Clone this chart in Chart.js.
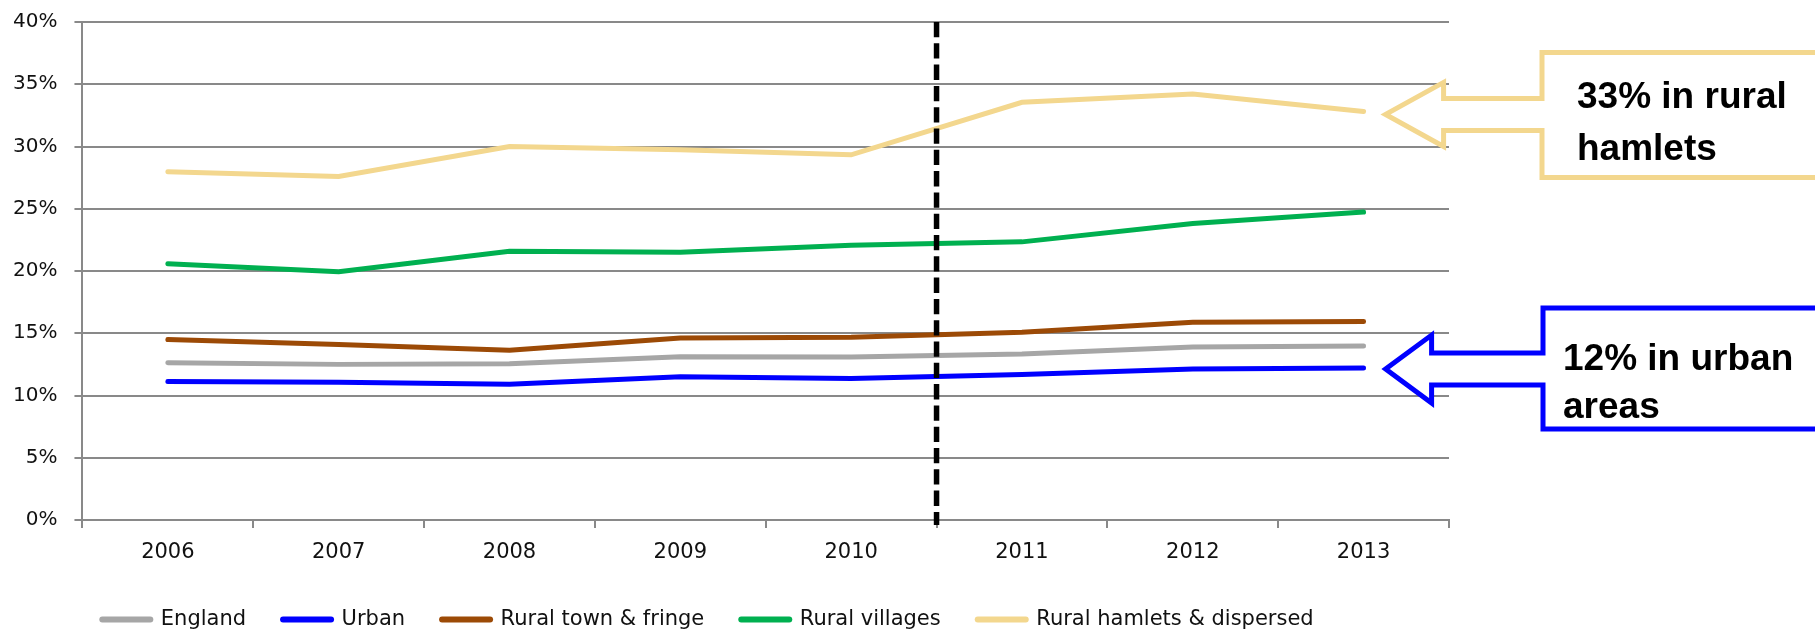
<!DOCTYPE html>
<html>
<head>
<meta charset="utf-8">
<script src="https://cdn.jsdelivr.net/npm/chart.js@4.4.0/dist/chart.umd.min.js"></script>
<style>
  html, body { margin: 0; padding: 0; background: #fff; overflow: hidden; }
  #wrap { position: relative; width: 1815px; height: 645px; }
</style>
</head>
<body>
<div id="wrap"><canvas id="chart"></canvas></div>
<script>
// data
const years = ['2006', '2007', '2008', '2009', '2010', '2011', '2012', '2013'];
const england = [12.64, 12.5, 12.55, 13.12, 13.09, 13.33, 13.9, 13.98];
const urban = [11.13, 11.07, 10.91, 11.5, 11.37, 11.69, 12.12, 12.2];
const ruralTown = [14.49, 14.09, 13.63, 14.62, 14.68, 15.08, 15.89, 15.94];
const ruralVillages = [20.59, 19.94, 21.59, 21.5, 22.07, 22.34, 23.82, 24.73];
const ruralHamlets = [27.98, 27.6, 30.0, 29.73, 29.33, 33.55, 34.22, 32.82];
const yTicks = [0, 5, 10, 15, 20, 25, 30, 35, 40];

const FONT = '"DejaVu Sans", Arial, sans-serif';
const BOLD_FONT = '"Liberation Sans", Arial, sans-serif';
const GRID = '#898989';

// callout boxes on the right, each pointing at the last value of a series
const callouts = [
  { data: ruralHamlets, color: '#F3D78E', lines: ['33% in rural', 'hamlets'], tipDy: 3,
    head: 58, headHalf: 32, shaftHalf: 16, boxX: 1542, boxTop: -62, boxBottom: 63, textX: 1577, textDy: [-6, 46] },
  { data: urban, color: '#0000FF', lines: ['12% in urban', 'areas'], tipDy: 1,
    head: 46, headHalf: 34, shaftHalf: 16, boxX: 1543, boxTop: -61, boxBottom: 60, textX: 1563, textDy: [1, 49] }
];

const overlay = {
  id: 'overlay',
  afterLayout(chart) {
    // legend of the original sits left of the plot centre
    const lg = chart.legend;
    lg.left -= 14.5; lg.right -= 14.5;
    lg.top -= 5; lg.bottom -= 5;
  },
  afterDatasetsDraw(chart) {
    const { ctx, chartArea, scales } = chart;
    const x = scales.x.getPixelForValue(4.5);
    ctx.save();
    ctx.strokeStyle = '#000';
    ctx.lineWidth = 5.5;
    ctx.setLineDash([15.3, 6]);
    ctx.beginPath();
    ctx.moveTo(x, chartArea.top);
    ctx.lineTo(x, chartArea.bottom + 5);
    ctx.stroke();
    ctx.restore();
  },
  afterDraw(chart) {
    const { ctx, scales } = chart;
    const last = years.length - 1;
    callouts.forEach(c => {
      const tx = scales.x.getPixelForValue(last) + 22;
      const ty = scales.y.getPixelForValue(c.data[last]) + c.tipDy;
      const hx = tx + c.head;
      const right = chart.width + 50;
      ctx.save();
      ctx.beginPath();
      ctx.moveTo(tx, ty);
      ctx.lineTo(hx, ty - c.headHalf);
      ctx.lineTo(hx, ty - c.shaftHalf);
      ctx.lineTo(c.boxX, ty - c.shaftHalf);
      ctx.lineTo(c.boxX, ty + c.boxTop);
      ctx.lineTo(right, ty + c.boxTop);
      ctx.lineTo(right, ty + c.boxBottom);
      ctx.lineTo(c.boxX, ty + c.boxBottom);
      ctx.lineTo(c.boxX, ty + c.shaftHalf);
      ctx.lineTo(hx, ty + c.shaftHalf);
      ctx.lineTo(hx, ty + c.headHalf);
      ctx.closePath();
      ctx.fillStyle = '#fff';
      ctx.fill();
      ctx.lineWidth = 5;
      ctx.lineJoin = 'miter';
      ctx.strokeStyle = c.color;
      ctx.stroke();
      ctx.fillStyle = '#000';
      ctx.font = 'bold 37px ' + BOLD_FONT;
      ctx.textBaseline = 'alphabetic';
      c.lines.forEach((t, i) => ctx.fillText(t, c.textX, ty + c.textDy[i]));
      ctx.restore();
    });
  }
};

function series(label, data, color) {
  return {
    label: label,
    data: data,
    borderColor: color,
    backgroundColor: color,
    borderWidth: 5,
    borderCapStyle: 'round',
    pointRadius: 0,
    pointHoverRadius: 0,
    tension: 0,
    fill: false
  };
}

new Chart(document.getElementById('chart'), {
  type: 'line',
  data: {
    labels: years,
    datasets: [
      series('England', england, '#A6A6A6'),
      series('Urban', urban, '#0000FF'),
      series('Rural town & fringe', ruralTown, '#9C4A06'),
      series('Rural villages', ruralVillages, '#00B050'),
      series('Rural hamlets & dispersed', ruralHamlets, '#F3D78E')
    ]
  },
  options: {
    responsive: true,
    maintainAspectRatio: false,
    animation: false,
    layout: { padding: { top: 22, left: -4, right: 366, bottom: 0 } },
    plugins: {
      tooltip: { enabled: false },
      legend: {
        position: 'bottom',
        labels: {
          usePointStyle: true,
          pointStyle: 'line',
          pointStyleWidth: 48,
          padding: 37,
          color: '#111',
          font: { family: FONT, size: 21 },
          generateLabels(chart) {
            return Chart.defaults.plugins.legend.labels.generateLabels(chart)
              .map(item => Object.assign(item, { lineCap: 'round', lineWidth: 6 }));
          }
        }
      }
    },
    scales: {
      x: {
        offset: true,
        grid: { offset: true, drawOnChartArea: false, drawTicks: true, tickLength: 8, color: GRID, lineWidth: 2 },
        border: { display: true, color: GRID, width: 2 },
        ticks: { padding: 11.9, color: '#111', font: { family: FONT, size: 21 } }
      },
      y: {
        min: 0,
        max: 40,
        afterBuildTicks(axis) { axis.ticks = yTicks.map(v => ({ value: v })); },
        afterFit(axis) { axis.paddingTop = 0; axis.paddingBottom = 0; },
        grid: { color: GRID, lineWidth: 2, tickLength: 8 },
        border: { display: true, color: GRID, width: 2 },
        ticks: { padding: 17, color: '#111', font: { family: FONT, size: 20 }, callback: v => v + '%' }
      }
    }
  },
  plugins: [overlay]
});
</script>
</body>
</html>
